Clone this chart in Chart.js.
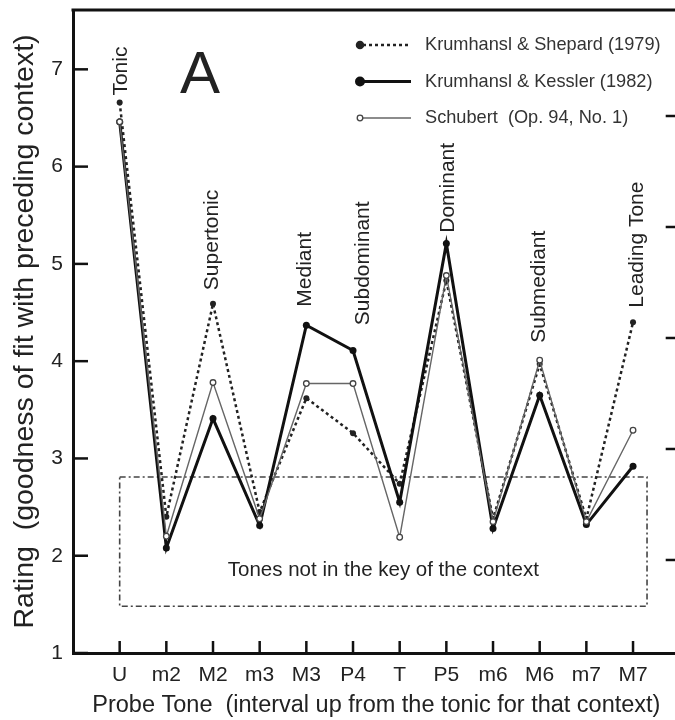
<!DOCTYPE html>
<html>
<head>
<meta charset="utf-8">
<script src="https://cdn.jsdelivr.net/npm/chart.js@4.4.1/dist/chart.umd.min.js"></script>
<style>
  html, body { margin: 0; padding: 0; overflow: hidden; background: #fff; }
  #wrap { width: 685px; height: 720px; }
</style>
</head>
<body>
<div id="wrap"><canvas id="chart"></canvas></div>
<script>
// probe tones and the three rating profiles
const tones = ['U', 'm2', 'M2', 'm3', 'M3', 'P4', 'T', 'P5', 'm6', 'M6', 'm7', 'M7']
const shepard1979 = [6.66, 2.40, 4.59, 2.45, 3.62, 3.26, 2.74, 4.83, 2.38, 3.97, 2.38, 4.40]
const kessler1982 = [6.46, 2.08, 3.41, 2.31, 4.37, 4.11, 2.55, 5.21, 2.28, 3.65, 2.32, 2.92]
const schubert94 = [6.46, 2.20, 3.78, 2.38, 3.77, 3.77, 2.19, 4.88, 2.35, 4.01, 2.35, 3.29]

// "tones not in the key" box, in data units
const boxX = [0, 11.3, 11.3, 0, 0]
const boxY = [2.81, 2.81, 1.48, 1.48, 2.81]

// right-hand axis ticks (axis of the next panel, cut off)
const rightTicks = [1, 2, 3, 4, 5]

// scale degree names over the points
const degreeNames = [
    {x: 0.03, y: 6.73, text: 'Tonic'},
    {x: 1.98, y: 4.73, text: 'Supertonic'},
    {x: 3.97, y: 4.56, text: 'Mediant'},
    {x: 5.21, y: 4.37, text: 'Subdominant'},
    {x: 7.03, y: 5.32, text: 'Dominant'},
    {x: 9.00, y: 4.19, text: 'Submediant'},
    {x: 11.08, y: 4.55, text: 'Leading Tone'},
]
const boxNote = {x: 5.65, y: 1.85, text: 'Tones not in the key of the context'}

const FONT = "'Liberation Sans', Arial, sans-serif"
const points = vals => vals.map((v, i) => ({x: i, y: v}))

const decorations = {
    id: 'decorations',
    afterDatasetsDraw(chart) {
        const {ctx, chartArea: a, scales: {x, y, y2}} = chart
        ctx.save()
        ctx.strokeStyle = '#111'

        // top frame line
        ctx.lineWidth = 3
        ctx.beginPath()
        ctx.moveTo(a.left - 1.5, a.top)
        ctx.lineTo(a.right, a.top)
        ctx.stroke()

        // inward tick marks
        ctx.lineWidth = 2.5
        y.ticks.forEach(t => {
            const py = y.getPixelForValue(t.value)
            ctx.beginPath(); ctx.moveTo(a.left, py); ctx.lineTo(a.left + 15, py); ctx.stroke()
        })
        x.ticks.forEach(t => {
            if (tones[t.value] === undefined) return
            const px = x.getPixelForValue(t.value)
            ctx.beginPath(); ctx.moveTo(px, a.bottom); ctx.lineTo(px, a.bottom - 12); ctx.stroke()
        })
        y2.ticks.forEach(t => {
            const py = y2.getPixelForValue(t.value)
            ctx.beginPath(); ctx.moveTo(a.right, py); ctx.lineTo(a.right - 14, py); ctx.stroke()
        })

        ctx.fillStyle = '#222'

        // panel letter
        ctx.font = `60px ${FONT}`
        ctx.textAlign = 'center'
        ctx.textBaseline = 'alphabetic'
        ctx.fillText('A', 200, 93)

        // box note
        ctx.font = `20.5px ${FONT}`
        ctx.textBaseline = 'middle'
        ctx.fillText(boxNote.text, x.getPixelForValue(boxNote.x), y.getPixelForValue(boxNote.y))

        // rotated degree names
        ctx.font = `21px ${FONT}`
        ctx.textAlign = 'left'
        degreeNames.forEach(d => {
            ctx.save()
            ctx.translate(x.getPixelForValue(d.x), y.getPixelForValue(d.y))
            ctx.rotate(-Math.PI / 2)
            ctx.fillText(d.text, 0, 0)
            ctx.restore()
        })

        // legend
        const legendOrder = [0, 1, 2]
        ctx.font = `18.2px ${FONT}`
        ctx.textAlign = 'left'
        legendOrder.forEach((idx, row) => {
            const ds = chart.data.datasets[idx]
            const ly = 45 + row * 36.5
            ctx.save()
            ctx.strokeStyle = ds.borderColor
            ctx.lineWidth = ds.borderWidth
            ctx.setLineDash(ds.borderDash || [])
            ctx.beginPath(); ctx.moveTo(363, ly); ctx.lineTo(411, ly); ctx.stroke()
            ctx.setLineDash([])
            ctx.beginPath()
            ctx.arc(360, ly, ds.pointRadius, 0, Math.PI * 2)
            ctx.fillStyle = ds.pointBackgroundColor
            ctx.fill()
            ctx.lineWidth = ds.pointBorderWidth
            ctx.strokeStyle = ds.pointBorderColor
            ctx.stroke()
            ctx.restore()
            ctx.fillStyle = '#333'
            ctx.fillText(ds.label, 425, ly)
        })
        ctx.restore()
    }
}

new Chart(document.getElementById('chart'), {
    type: 'line',
    data: {
        datasets: [
            {
                label: 'Krumhansl & Shepard (1979)',
                data: points(shepard1979),
                borderColor: '#222',
                borderWidth: 2.5,
                borderDash: [3, 3],
                pointRadius: 3,
                pointBackgroundColor: '#222',
                pointBorderColor: '#222',
                pointBorderWidth: 0,
                order: 2,
            },
            {
                label: 'Krumhansl & Kessler (1982)',
                data: points(kessler1982),
                borderColor: '#111',
                borderWidth: 3,
                pointRadius: 3.5,
                pointBackgroundColor: '#111',
                pointBorderColor: '#111',
                pointBorderWidth: 0,
                order: 1,
            },
            {
                label: 'Schubert  (Op. 94, No. 1)',
                data: points(schubert94),
                borderColor: '#666',
                borderWidth: 1.4,
                pointRadius: 2.8,
                pointBackgroundColor: '#fff',
                pointBorderColor: '#444',
                pointBorderWidth: 1.3,
                order: 0,
            },
            {
                label: 'box',
                data: boxX.map((v, i) => ({x: v, y: boxY[i]})),
                borderColor: '#444',
                borderWidth: 1.6,
                borderDash: [6, 3, 2, 3],
                pointRadius: 0,
                order: 3,
            },
        ]
    },
    options: {
        responsive: true,
        maintainAspectRatio: false,
        animation: false,
        events: [],
        layout: {padding: {top: 10, left: 0, right: 0, bottom: 0}},
        elements: {line: {tension: 0, fill: false}},
        plugins: {
            legend: {display: false},
            tooltip: {enabled: false},
        },
        scales: {
            x: {
                type: 'linear',
                min: -1,
                max: 12,
                afterFit: s => {
                    s.height = 67
                    s.paddingLeft = 0
                    s.paddingRight = 0
                },
                border: {width: 3, color: '#111'},
                grid: {display: false, drawTicks: false},
                ticks: {
                    stepSize: 1,
                    includeBounds: false,
                    autoSkip: false,
                    maxRotation: 0,
                    padding: 10,
                    color: '#222',
                    font: {family: FONT, size: 21},
                    callback: v => tones[v] ?? '',
                },
                title: {
                    display: true,
                    text: 'Probe Tone  (interval up from the tonic for that context)',
                    color: '#222',
                    font: {family: FONT, size: 23.5},
                    padding: {top: 0, bottom: 0},
                },
            },
            y: {
                type: 'linear',
                min: 1,
                max: 7.61,
                afterFit: s => {
                    s.width = 73
                    s.paddingTop = 0
                    s.paddingBottom = 0
                },
                border: {width: 3, color: '#111'},
                grid: {display: false, drawTicks: false},
                ticks: {
                    stepSize: 1,
                    includeBounds: false,
                    padding: 10,
                    color: '#222',
                    font: {family: FONT, size: 21},
                },
                title: {
                    display: true,
                    text: 'Rating  (goodness of fit with preceding context)',
                    color: '#222',
                    font: {family: FONT, size: 28.5},
                    padding: {top: 8, bottom: 0},
                },
            },
            y2: {
                type: 'linear',
                position: 'right',
                bounds: 'data',
                min: 0.162,
                max: 5.955,
                afterFit: s => {
                    s.width = 0
                    s.paddingTop = 0
                    s.paddingBottom = 0
                },
                afterBuildTicks: s => { s.ticks = rightTicks.map(v => ({value: v})) },
                border: {display: false},
                grid: {display: false, drawTicks: false},
                ticks: {display: false, padding: 0},
            },
        },
    },
    plugins: [decorations],
})
</script>
</body>
</html>
